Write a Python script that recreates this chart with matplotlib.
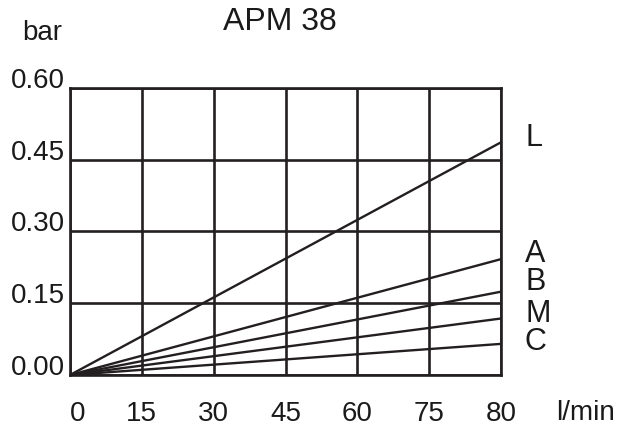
import matplotlib.pyplot as plt

# flow ticks (equally spaced on the sheet, last step is 75 -> 80)
flow_labels = ['0', '15', '30', '45', '60', '75', '80']
pressure_ticks = [0.00, 0.15, 0.30, 0.45, 0.60]

# pressure drop at 80 l/min for each element (bar)
curve_names = ['L', 'A', 'B', 'M', 'C']
curve_end = [0.486, 0.242, 0.174, 0.118, 0.065]

ink = '#231f20'
plt.rcParams['font.family'] = ['Liberation Sans', 'DejaVu Sans']

fig = plt.figure(figsize=(6.25, 4.26), dpi=100)
ax = fig.add_axes([0.112, 0.1197, 0.6896, 0.6744])

pos = list(range(len(flow_labels)))
last = pos[-1]

for name, end in zip(curve_names, curve_end):
    ax.plot([0, last], [0, end], color=ink, linewidth=1.7, solid_capstyle='butt')

ax.set_xlim(0, last)
ax.set_ylim(0, 0.60)
ax.set_xticks(pos)
ax.set_xticklabels(flow_labels)
ax.set_yticks(pressure_ticks)
ax.set_yticklabels(['%.2f' % v for v in pressure_ticks])
ax.grid(True, color=ink, linewidth=1.9)
ax.set_axisbelow(False)
for sp in ax.spines.values():
    sp.set_color(ink)
    sp.set_linewidth(1.9)

ax.tick_params(axis='both', length=0, labelsize=20, colors='#1a1a1a')
ax.tick_params(axis='x', pad=18.5)
ax.tick_params(axis='y', pad=3.6)
for lbl in ax.get_yticklabels():
    lbl.set_va('baseline')
ax.get_xticklabels()[0].set_ha('left')

# curve labels on the right
label_y = {'L': 138.5, 'A': 253.5, 'B': 282, 'M': 313.5, 'C': 341.5}
for name in curve_names:
    fig.text(525 / 625, 1 - label_y[name] / 426, name, fontsize=22,
             ha='left', va='center', color='#1a1a1a')

fig.text(280 / 625, 1 - 22 / 426, 'APM 38', fontsize=23, ha='center', va='center', color='#1a1a1a')
fig.text(42 / 625, 1 - 40 / 426, 'bar', fontsize=20, ha='center', va='baseline', color='#1a1a1a')
fig.text(585 / 625, 1 - 420 / 426, 'l/min', fontsize=20, ha='center', va='baseline', color='#1a1a1a')

fig.savefig('out.png', dpi=100, facecolor='white')
